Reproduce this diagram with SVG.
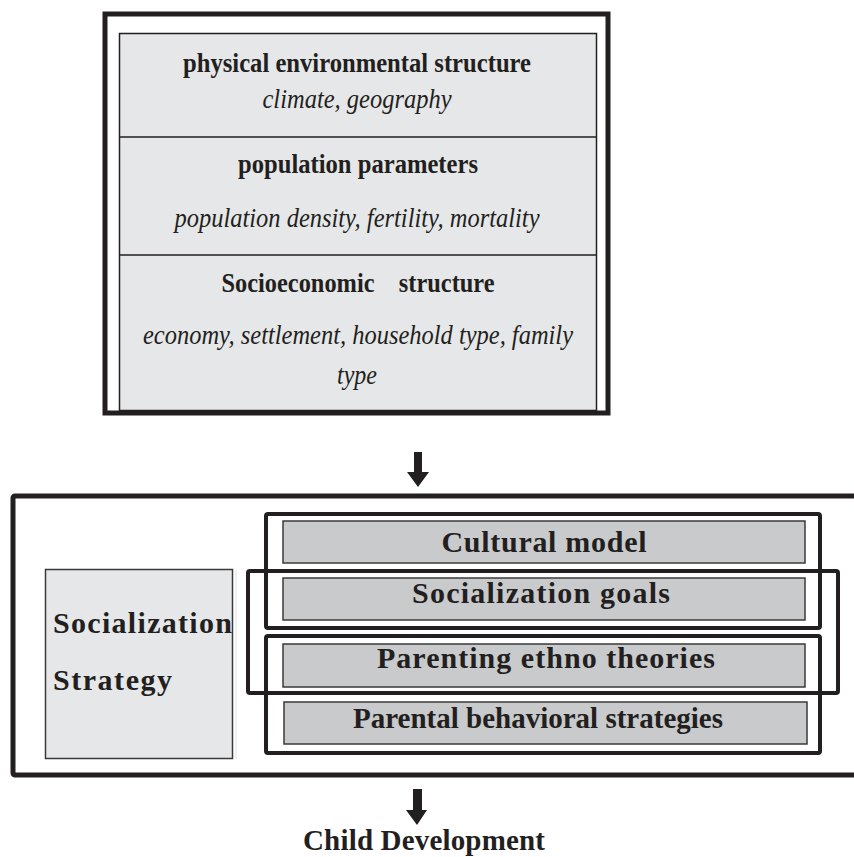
<svg xmlns="http://www.w3.org/2000/svg" width="854" height="857" viewBox="0 0 854 857">
<style>
text{font-family:"Liberation Serif","Times New Roman",serif;fill:#231f20;text-anchor:middle}
.b{font-weight:bold;font-size:28px}
.i{font-style:italic;font-size:28px}
.frame{fill:none;stroke:#231f20;stroke-width:4}
.gbox{fill:#c9cacc;stroke:#3a3a3a;stroke-width:1.5}
.lbl{font-weight:bold;font-size:30px}
.side{font-weight:bold;font-size:30px;text-anchor:start}
.arrow{fill:#231f20}
</style>
<rect width="854" height="857" fill="#fff"/>
<g id="context">
  <rect x="105" y="14" width="503" height="399" fill="#fff" stroke="#231f20" stroke-width="5"/>
  <rect x="119.5" y="33.5" width="477" height="377" fill="#e6e7e8" stroke="#231f20" stroke-width="1.5"/>
  <line x1="119.5" y1="137" x2="596.5" y2="137" stroke="#231f20" stroke-width="1.5"/>
  <line x1="119.5" y1="255" x2="596.5" y2="255" stroke="#231f20" stroke-width="1.5"/>
  <text class="b" x="357" y="72" textLength="348" lengthAdjust="spacingAndGlyphs">physical environmental structure</text>
  <text class="i" x="357" y="108" textLength="189" lengthAdjust="spacingAndGlyphs">climate, geography</text>
  <text class="b" x="358" y="173" textLength="240" lengthAdjust="spacingAndGlyphs">population parameters</text>
  <text class="i" x="357" y="227" textLength="365" lengthAdjust="spacingAndGlyphs">population density, fertility, mortality</text>
  <text class="b" x="358" y="292" textLength="273" lengthAdjust="spacingAndGlyphs" xml:space="preserve">Socioeconomic    structure</text>
  <text class="i" x="358" y="344" textLength="430" lengthAdjust="spacingAndGlyphs">economy, settlement, household type, family</text>
  <text class="i" x="357" y="384" textLength="40" lengthAdjust="spacingAndGlyphs">type</text>
</g>
<g id="socialization-system">
  <rect x="13" y="496" width="900" height="279" fill="none" stroke="#231f20" stroke-width="5" rx="2"/>
</g>
<g id="socialization-strategy">
  <rect x="235" y="571" width="2" height="188" fill="#f0f0f0"/>
  <rect x="45.5" y="569.5" width="187" height="189" fill="#e6e7e8" stroke="#3a3a3a" stroke-width="1.5"/>
  <text class="side" x="53" y="633" textLength="179" lengthAdjust="spacing">Socialization</text>
  <text class="side" x="53" y="690" textLength="119" lengthAdjust="spacing">Strategy</text>
</g>
<g id="cultural-model">
  <rect class="gbox" x="283" y="521" width="522" height="42"/>
  <text class="lbl" x="544" y="552" textLength="205" lengthAdjust="spacing">Cultural model</text>
</g>
<g id="socialization-goals">
  <rect class="gbox" x="283" y="578" width="522" height="42"/>
  <text class="lbl" x="541" y="603" textLength="258" lengthAdjust="spacing">Socialization goals</text>
</g>
<g id="parenting-ethnotheories">
  <rect class="gbox" x="283" y="644" width="522" height="43"/>
  <text class="lbl" x="546" y="668" textLength="338" lengthAdjust="spacing">Parenting ethno theories</text>
</g>
<g id="parental-behavioral-strategies">
  <rect class="gbox" x="284" y="702" width="523" height="42"/>
  <text class="lbl" x="538" y="728" textLength="370" lengthAdjust="spacingAndGlyphs">Parental behavioral strategies</text>
</g>
<g id="frames">
  <rect class="frame" x="266" y="514" width="554" height="114" rx="2"/>
  <rect class="frame" x="248" y="571" width="590" height="122" rx="2"/>
  <rect class="frame" x="266" y="636" width="554" height="117" rx="2"/>
</g>
<g id="child-development">
  <text class="b" x="424" y="850" style="font-size:29px" textLength="242" lengthAdjust="spacing">Child Development</text>
</g>
<g id="connectors">
  <polygon class="arrow" points="414,452 422,452 422,472 429,472 418,487 407,472 414,472"/>
  <polygon class="arrow" points="413,789 422,789 422,810 427,810 417,825 406,810 413,810"/>
</g>
</svg>
